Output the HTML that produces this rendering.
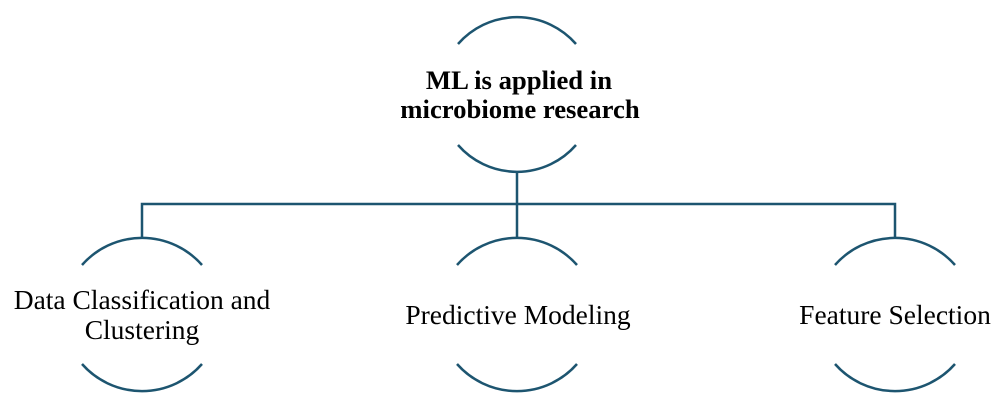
<!DOCTYPE html>
<html><head><style>
html,body{margin:0;padding:0;background:#fff;width:1000px;height:405px;overflow:hidden}
svg{display:block}
text{font-family:"Liberation Serif",serif;fill:#000}
</style></head><body>
<svg width="1000" height="405" viewBox="0 0 1000 405">
<g fill="none" stroke="#1d5570" stroke-width="2.5">
<path d="M458,44 A78.3,78.3 0 0 1 576,44"/>
<path d="M458,145 A78.3,78.3 0 0 0 576,145"/>
<path d="M517,173 V237 M142,237 V204 H895 V237"/>
<path d="M82,265 A80,80 0 0 1 202,265"/><path d="M82,364 A80,80 0 0 0 202,364"/>
<path d="M457,265 A80,80 0 0 1 577,265"/><path d="M457,364 A80,80 0 0 0 577,364"/>
<path d="M835,265 A80,80 0 0 1 955,265"/><path d="M835,364 A80,80 0 0 0 955,364"/>
</g>
<text x="519" y="89" font-size="26.7" font-weight="bold" text-anchor="middle">ML is applied in</text>
<text x="520" y="118" font-size="26.7" font-weight="bold" text-anchor="middle">microbiome research</text>
<text x="142" y="309" font-size="27.5" text-anchor="middle">Data Classification and</text>
<text x="142" y="339" font-size="27.5" text-anchor="middle">Clustering</text>
<text x="518" y="324" font-size="27.5" text-anchor="middle">Predictive Modeling</text>
<text x="895" y="324" font-size="27.5" text-anchor="middle">Feature Selection</text>
</svg>
</body></html>
